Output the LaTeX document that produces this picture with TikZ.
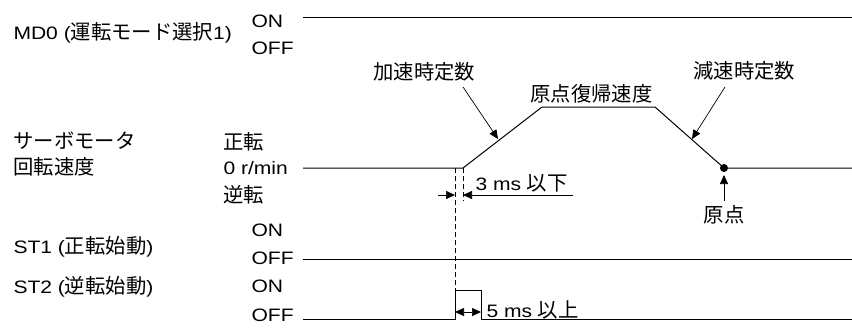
\documentclass[tikz,border=0pt]{standalone}
\usepackage{fontspec}
\setmainfont[FakeStretch=1.17]{Liberation Sans}
\newfontfamily\jp[Scale=1.13]{Noto Sans CJK JP}
\usetikzlibrary{arrows.meta, positioning}

\begin{document}
\begin{tikzpicture}[x=1pt, y=-1pt, line width=1pt,
  txt/.style={anchor=west, inner sep=0pt, font=\fontsize{18}{21}\selectfont},
  tip/.style={line width=0.7pt, -{Triangle[length=9pt,width=8pt]}},
  dtip/.style={line width=0.7pt, {Triangle[length=9pt,width=8pt]}-{Triangle[length=9pt,width=8pt]}},
  guide/.style={line width=0.7pt, dash pattern=on 5pt off 3pt}]
\useasboundingbox (0,0) rectangle (852,327);

% signal levels
\coordinate (mdL) at (303,17);  \coordinate (mdR) at (852,17);
\coordinate (spL) at (303,168); \coordinate (spR) at (852,168);
\coordinate (s1L) at (303,259); \coordinate (s1R) at (852,259);
\coordinate (s2L) at (303,319); \coordinate (s2R) at (852,319);

% speed profile
\coordinate (acc0) at (463,168);
\coordinate (acc1) at (542,107);
\coordinate (dec0) at (655,107);
\coordinate (home) at (724,168);

% ST2 pulse
\coordinate (p0) at (455,319);
\coordinate (p1) at (455,290);
\coordinate (p2) at (481,290);
\coordinate (p3) at (481,319);

% labels on the left
\node[txt] (md0) at (13,33) {MD0 ({\jp 運転モード選択}1)};
\node[txt] (mdon) at (251,21) {ON};
\node[txt] (mdoff) at (251,48) {OFF};
\node[txt] (sv1) at (13,141) {\jp サーボモータ};
\node[txt] (sv2) at (13,167) {\jp 回転速度};
\node[txt] (fwd) at (223,142) {\jp 正転};
\node[txt] (zero) at (223,168) {0 r/min};
\node[txt] (rev) at (223,195) {\jp 逆転};
\node[txt] (st1) at (13,247) {ST1 ({\jp 正転始動})};
\node[txt] (st1on) at (251,230) {ON};
\node[txt] (st1off) at (251,258) {OFF};
\node[txt] (st2) at (13,287) {ST2 ({\jp 逆転始動})};
\node[txt] (st2on) at (251,286) {ON};
\node[txt] (st2off) at (251,315) {OFF};

% waveforms
\draw (mdL) -- (mdR);
\draw (spL) -- (acc0) -- (acc1) -- (dec0) -- (home) -- (spR);
\draw (s1L) -- (s1R);
\draw (s2L) -- (p0) -- (p1) -- (p2) -- (p3) -- (s2R);
\fill (home) circle (4pt);

% callouts
\node[txt] (acclbl) at (373,72) {\jp 加速時定数};
\node[txt] (spdlbl) at (530,94) {\jp 原点復帰速度};
\node[txt] (declbl) at (693,71) {\jp 減速時定数};
\node[txt, anchor=center] (homelbl) at (724,215) {\jp 原点};
\coordinate (accA) at (463,87);  \coordinate (accB) at (498,139);
\coordinate (decA) at (725,87);  \coordinate (decB) at (692,139);
\coordinate (homeA) at (724,201); \coordinate (homeB) at (724,175);
\draw[tip] (accA) -- (accB);
\draw[tip] (decA) -- (decB);
\draw[tip] (homeA) -- (homeB);

% timing
\coordinate (g2) at (463,201);
\draw[guide] (455,168) -- (p1);
\draw[guide] (acc0) -- (g2);
\coordinate (t3a) at (438,195); \coordinate (t3b) at (455,195);
\coordinate (t3c) at (463,195); \coordinate (t3d) at (573,195);
\draw[tip] (t3a) -- (t3b);
\draw[tip] (t3d) -- (t3c);
\node[txt] (t3lbl) at (475,183) {3 ms {\jp 以下}};
\coordinate (t5a) at (455,312); \coordinate (t5b) at (481,312);
\draw[dtip] (t5a) -- (t5b);
\node[txt] (t5lbl) at (486,310) {5 ms {\jp 以上}};
\end{tikzpicture}
\end{document}
